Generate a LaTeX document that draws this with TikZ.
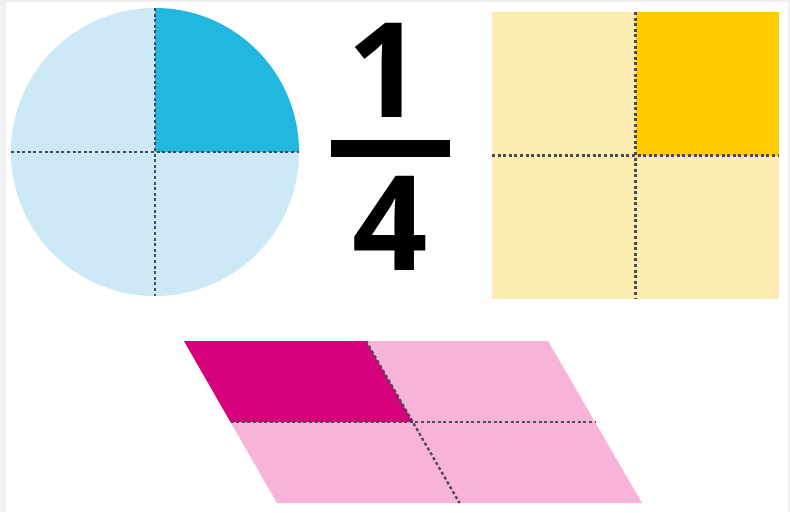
\documentclass[tikz,border=0pt]{standalone}
\usepackage{fontspec}
\setmainfont{Open Sans}
\definecolor{bgray}{HTML}{F0F0F0}
\definecolor{lblue}{HTML}{CCE9F5}
\definecolor{dblue}{HTML}{22B7DE}
\definecolor{lyel}{HTML}{FCECB2}
\definecolor{dyel}{HTML}{FFCC00}
\definecolor{lpink}{HTML}{F8B3D9}
\definecolor{dpink}{HTML}{D6007B}
\definecolor{dotc}{HTML}{4A4A55}
\begin{document}
\begin{tikzpicture}[x=1pt,y=-1pt,
  divline/.style={draw=dotc,line width=2.3pt,dash pattern=on 3pt off 2.6pt},
  digit/.style={font=\fontsize{132}{132}\selectfont\bfseries,inner sep=0pt,text=black}]
\useasboundingbox (0,0) rectangle (790,512);
\fill[bgray] (0,0) rectangle (790,512);
\fill[white] (6,2) rectangle (788,512);
% circle
\coordinate (cc) at (155,152);
\fill[lblue] (cc) circle[radius=144];
\fill[dblue] (cc) -- (299,152) arc[start angle=0,end angle=-90,radius=144] -- cycle;
\coordinate (cl) at (11,152); \coordinate (cr) at (299,152);
\coordinate (ct) at (155,8); \coordinate (cb) at (155,296);
\draw[divline] (cl) -- (cr);
\draw[divline] (ct) -- (cb);
% fraction
\node[digit] (one) at (385,70) {1};
\fill[black] (331,140) rectangle (450,157);
\node[digit] (four) at (390,223) {4};
% square
\fill[lyel] (492,12) rectangle (779,299);
\fill[dyel] (635.5,12) rectangle (779,155.5);
\coordinate (st) at (635.5,12); \coordinate (sb) at (635.5,299);
\coordinate (sl) at (492,155.5); \coordinate (sr) at (779,155.5);
\draw[divline] (st) -- (sb);
\draw[divline] (sl) -- (sr);
% parallelogram
\coordinate (p1) at (184,341); \coordinate (p2) at (548,341);
\coordinate (p3) at (642,503); \coordinate (p4) at (277,503);
\fill[lpink] (p1) -- (p2) -- (p3) -- (p4) -- cycle;
\coordinate (pm) at (412.75,422);
\coordinate (pl) at (230.5,422); \coordinate (pr) at (595,422);
\coordinate (pt) at (366,341); \coordinate (pb) at (459.5,503);
\fill[dpink] (p1) -- (pt) -- (pm) -- (pl) -- cycle;
\draw[divline] (pl) -- (pr);
\draw[divline] (pt) -- (pb);
\end{tikzpicture}
\end{document}
